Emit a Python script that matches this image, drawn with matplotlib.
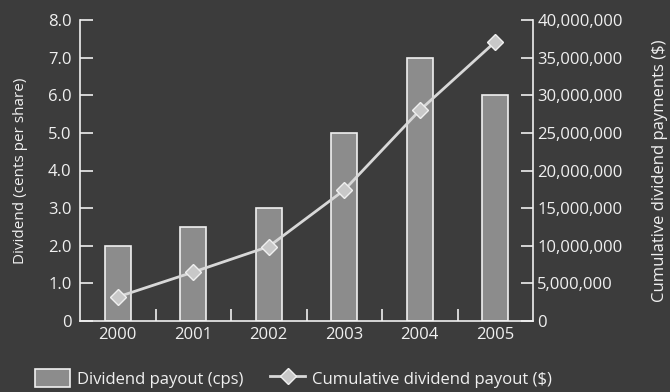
import matplotlib
matplotlib.use("Agg")
import matplotlib.pyplot as plt
from matplotlib.ticker import FuncFormatter

years = ["2000", "2001", "2002", "2003", "2004", "2005"]
dividend_cps = [2.0, 2.5, 3.0, 5.0, 7.0, 6.0]
cumulative_payout = [3200000, 6500000, 9900000, 17400000, 28000000, 37100000]
left_ticks = [0, 1, 2, 3, 4, 5, 6, 7, 8]
right_ticks = [0, 5000000, 10000000, 15000000, 20000000, 25000000, 30000000, 35000000, 40000000]

BG = "#3c3c3c"
FG = "#f0f0f0"
plt.rcParams["font.family"] = ["Open Sans", "DejaVu Sans"]
plt.rcParams["font.size"] = 12

W, H = 670, 392
fig = plt.figure(figsize=(6.7, 3.92), dpi=100, facecolor=BG)
ax = fig.add_axes([80/W, 1-321/H, (533-80)/W, (321-20)/H])
ax.set_facecolor(BG)
x = list(range(len(years)))
bars = ax.bar(x, dividend_cps, width=0.34, color="#8c8c8c", edgecolor=FG, linewidth=1.2,
              label="Dividend payout (cps)", zorder=2)
ax.set_xlim(-0.5, 5.5)
ax.set_ylim(0, 8)
ax.set_yticks(left_ticks)
ax.yaxis.set_major_formatter(FuncFormatter(lambda v, p: "0" if v == 0 else f"{v:.1f}"))
ax.set_xticks([0.5, 1.5, 2.5, 3.5, 4.5])
ax.set_xticklabels([])
ax.set_xticks(x, minor=True)
ax.set_xticklabels(years, minor=True)
ax.tick_params(axis="x", which="major", direction="in", length=9, color=FG, width=1.2)
ax.tick_params(axis="x", which="minor", length=0, colors=FG, labelsize=12, pad=4)
ax.tick_params(axis="y", direction="in", length=9, color=FG, width=1.2, labelcolor=FG, labelsize=12, pad=6)
for s in ["top", "right"]:
    ax.spines[s].set_visible(False)
for s in ["left", "bottom"]:
    ax.spines[s].set_color(FG)
    ax.spines[s].set_linewidth(1.2)
ax.set_ylabel("Dividend (cents per share)", color=FG, fontsize=11)
ax.yaxis.set_label_coords((28-80)/453, 0.5)

ax2 = ax.twinx()
ln, = ax2.plot(x, cumulative_payout, color="#d8d8d8", linewidth=2, marker="D", markersize=8,
               markerfacecolor="#c8c8c8", markeredgecolor=FG, markeredgewidth=1,
               label="Cumulative dividend payout ($)", zorder=3)
ax2.set_ylim(0, 40000000)
ax2.set_yticks(right_ticks)
ax2.yaxis.set_major_formatter(FuncFormatter(lambda v, p: f"{int(v):,}"))
ax2.tick_params(axis="y", direction="in", length=9, color=FG, width=1.2, labelcolor=FG, labelsize=12, pad=3)
for s in ["top", "left", "bottom"]:
    ax2.spines[s].set_visible(False)
ax2.spines["right"].set_color(FG)
ax2.spines["right"].set_linewidth(1.2)
ax2.set_ylabel("Cumulative dividend payments ($)", color=FG, fontsize=12, rotation=90)
ax2.yaxis.set_label_coords((652-80)/453, 0.5)

ax0, ay0 = 35/W, 4/H
leg = fig.legend(handles=[bars, ln], loc="lower left", bbox_to_anchor=(ax0, ay0), ncol=2,
                 frameon=False, fontsize=12, handlelength=2.1, handleheight=1.3,
                 columnspacing=1.6, handletextpad=0.42, labelcolor=FG,
                 borderpad=0, borderaxespad=0)
fig.canvas.draw()
patch = leg.legend_handles[0]
bb = patch.get_window_extent(fig.canvas.get_renderer())
dx = (35 - bb.x0) / W
dy = (5 - bb.y0) / H
leg.set_bbox_to_anchor((ax0 + dx, ay0 + dy), transform=fig.transFigure)

fig.savefig("out.png", dpi=100, facecolor=BG)
